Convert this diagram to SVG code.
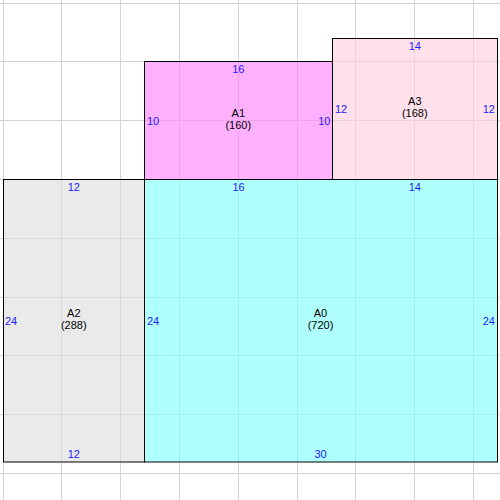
<svg xmlns="http://www.w3.org/2000/svg" width="500" height="500" viewBox="0 0 500 500">
<style>
.grid line{stroke:#d3d3d3;stroke-width:1}
.box{stroke:#000;stroke-width:1;fill-opacity:0.64}
.name{font-family:"Liberation Sans",Arial,sans-serif;font-size:11px;fill:#000;text-anchor:middle}
.dim{font-family:"Liberation Sans",Arial,sans-serif;font-size:11px;fill:#1a1aff}
.mid{text-anchor:middle}
.end{text-anchor:end}
</style>
<rect width="500" height="500" fill="#fff"/>
<g class="grid">
<line x1="3.5" y1="0" x2="3.5" y2="500"/>
<line x1="61.5" y1="0" x2="61.5" y2="500"/>
<line x1="120.5" y1="0" x2="120.5" y2="500"/>
<line x1="179.5" y1="0" x2="179.5" y2="500"/>
<line x1="238.5" y1="0" x2="238.5" y2="500"/>
<line x1="297.5" y1="0" x2="297.5" y2="500"/>
<line x1="355.5" y1="0" x2="355.5" y2="500"/>
<line x1="414.5" y1="0" x2="414.5" y2="500"/>
<line x1="473.5" y1="0" x2="473.5" y2="500"/>
<line x1="0" y1="3.5" x2="500" y2="3.5"/>
<line x1="0" y1="61.5" x2="500" y2="61.5"/>
<line x1="0" y1="120.5" x2="500" y2="120.5"/>
<line x1="0" y1="179.5" x2="500" y2="179.5"/>
<line x1="0" y1="238.5" x2="500" y2="238.5"/>
<line x1="0" y1="297.5" x2="500" y2="297.5"/>
<line x1="0" y1="355.5" x2="500" y2="355.5"/>
<line x1="0" y1="414.5" x2="500" y2="414.5"/>
<line x1="0" y1="473.5" x2="500" y2="473.5"/>
</g>
<g id="A2">
<rect class="box" x="3.5" y="179.5" width="141" height="282.5" fill="rgb(222,222,222)"/>
<text class="name" x="73.8" y="316.5">A2</text>
<text class="name" x="73.8" y="329">(288)</text>
<text class="dim mid" x="73.8" y="191">12</text>
<text class="dim mid" x="73.8" y="458">12</text>
<text class="dim" x="5" y="324.5">24</text>
</g>
<g id="A0">
<rect class="box" x="144.5" y="179.5" width="353" height="282.5" fill="rgb(131,255,255)"/>
<text class="name" x="320.5" y="316.5">A0</text>
<text class="name" x="320.5" y="329">(720)</text>
<text class="dim mid" x="238.5" y="191">16</text>
<text class="dim mid" x="414.8" y="191">14</text>
<text class="dim mid" x="320.5" y="458">30</text>
<text class="dim" x="147" y="324.5">24</text>
<text class="dim end" x="495" y="324.5">24</text>
</g>
<g id="A1">
<rect class="box" x="144.5" y="61.5" width="188" height="118" fill="rgb(255,131,255)"/>
<text class="name" x="238.3" y="116.7">A1</text>
<text class="name" x="238.3" y="129.2">(160)</text>
<text class="dim mid" x="238.3" y="73">16</text>
<text class="dim" x="147" y="124.5">10</text>
<text class="dim end" x="330.5" y="124.5">10</text>
</g>
<g id="A3">
<rect class="box" x="332.5" y="38.5" width="165" height="141" fill="rgb(255,208,225)"/>
<text class="name" x="414.8" y="104.5">A3</text>
<text class="name" x="414.8" y="117">(168)</text>
<text class="dim mid" x="414.8" y="49.5">14</text>
<text class="dim" x="335" y="112.5">12</text>
<text class="dim end" x="495" y="112.5">12</text>
</g>
<g id="connectors"/>
</svg>
